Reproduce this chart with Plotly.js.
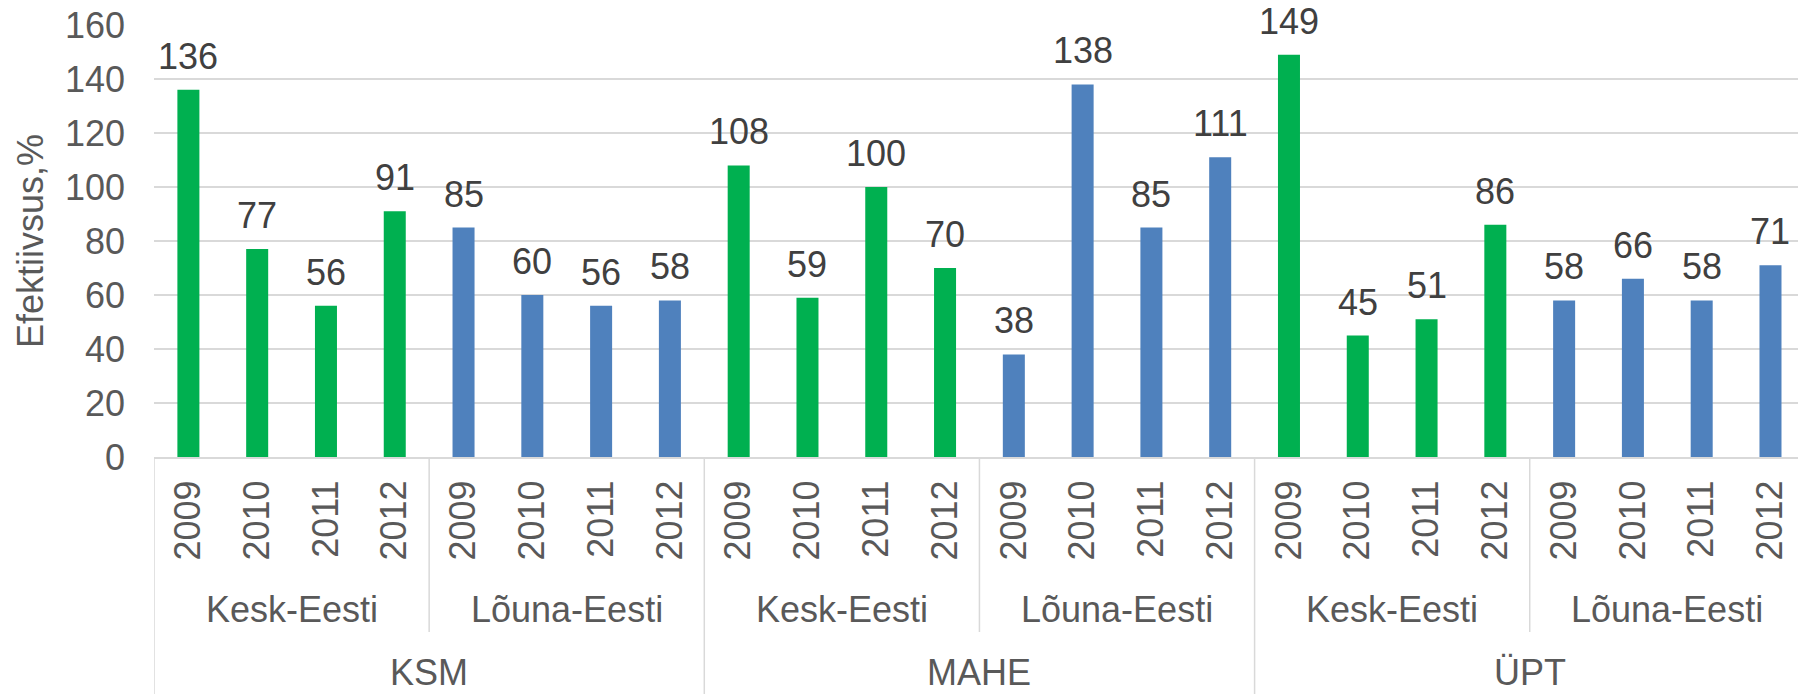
<!DOCTYPE html>
<html>
<head>
<meta charset="utf-8">
<script src="https://cdn.plot.ly/plotly-3.0.1.min.js"></script>
<style>
  html, body { margin: 0; padding: 0; background: #ffffff; }
  #chart { width: 1798px; height: 694px; }
</style>
</head>
<body>
<div id="chart"></div>
<script>
// ---- data ----
const groups = ['KSM', 'MAHE', 'ÜPT'];
const regions = ['Kesk-Eesti', 'Lõuna-Eesti'];
const years = ['2009', '2010', '2011', '2012'];
const ksmKesk = [136, 77, 56, 91];
const ksmLouna = [85, 60, 56, 58];
const maheKesk = [108, 59, 100, 70];
const maheLouna = [38, 138, 85, 111];
const uptKesk = [149, 45, 51, 86];
const uptLouna = [58, 66, 58, 71];
const yAxisTitle = 'Efektiivsus,%';
const yTicks = [0, 20, 40, 60, 80, 100, 120, 140, 160];

// ---- styles ----
const FONT = '"Liberation Sans", Arial, Helvetica, sans-serif';
const GREEN = '#00B050';
const BLUE = '#4F81BD';
const AXIS_TEXT = '#595959';
const LABEL_TEXT = '#404040';
const GRID = '#D9D9D9';

const seriesByGroup = [
  [ksmKesk, ksmLouna],
  [maheKesk, maheLouna],
  [uptKesk, uptLouna]
];

const xs = [], ys = [], colors = [], tickText = [];
seriesByGroup.forEach((pair, g) => {
  pair.forEach((vals, r) => {
    vals.forEach((v, k) => {
      xs.push(xs.length);
      ys.push(v);
      colors.push(r === 0 ? GREEN : BLUE);
      tickText.push(years[k]);
    });
  });
});

const nCat = xs.length;
const perRegion = years.length;
const perGroup = years.length * regions.length;

// plot geometry helpers (pixels below axis line)
const PLOT_H = 694 - 25 - 237;
const py = px => -px / PLOT_H;

const annotations = [];
// data labels
xs.forEach((x, i) => {
  annotations.push({
    x: x, y: ys[i], xref: 'x', yref: 'y',
    text: String(ys[i]), showarrow: false,
    xanchor: 'center', yanchor: 'bottom', yshift: 11,
    font: { family: FONT, size: 36, color: LABEL_TEXT }
  });
});
// region labels
groups.forEach((gname, g) => {
  regions.forEach((rname, r) => {
    const start = g * perGroup + r * perRegion;
    annotations.push({
      x: start + (perRegion - 1) / 2, y: py(152), xref: 'x', yref: 'paper',
      text: rname, showarrow: false, xanchor: 'center', yanchor: 'middle',
      font: { family: FONT, size: 36, color: AXIS_TEXT }
    });
  });
  annotations.push({
    x: g * perGroup + (perGroup - 1) / 2, y: py(215), xref: 'x', yref: 'paper',
    text: gname, showarrow: false, xanchor: 'center', yanchor: 'middle',
    font: { family: FONT, size: 36, color: AXIS_TEXT }
  });
});

// divider lines of the category table
const shapes = [];
for (let b = 0; b * perRegion <= nCat; b++) {
  const xb = b * perRegion - 0.5;
  const isGroup = (b * perRegion) % perGroup === 0;
  shapes.push({
    type: 'line', xref: 'x', yref: 'paper',
    x0: xb, x1: xb, y0: 0, y1: isGroup ? py(240) : py(175),
    line: { color: GRID, width: 1.5 }
  });
}

const trace = {
  type: 'bar', x: xs, y: ys,
  marker: { color: colors, line: { width: 0 } },
  width: 0.32, hoverinfo: 'x+y', cliponaxis: false
};

const layout = {
  width: 1798, height: 694,
  margin: { l: 154, r: 0, t: 25, b: 237, pad: 0 },
  paper_bgcolor: '#ffffff', plot_bgcolor: '#ffffff',
  showlegend: false,
  font: { family: FONT, color: AXIS_TEXT },
  xaxis: {
    range: [-0.5, nCat - 0.6],
    tickmode: 'array', tickvals: xs, ticktext: tickText,
    tickangle: -90, ticks: '', ticklabelstandoff: 7,
    tickfont: { family: FONT, size: 36, color: AXIS_TEXT },
    showgrid: false, zeroline: false,
    showline: true, linecolor: GRID, linewidth: 2,
    fixedrange: true
  },
  yaxis: {
    range: [0, 160],
    tickmode: 'array', tickvals: yTicks,
    ticks: '', ticklabelstandoff: 28,
    tickfont: { family: FONT, size: 36, color: AXIS_TEXT },
    showgrid: true, gridcolor: GRID, gridwidth: 1.4,
    zeroline: false, showline: false,
    title: { text: yAxisTitle, font: { family: FONT, size: 36, color: AXIS_TEXT }, standoff: 10 },
    automargin: false,
    fixedrange: true
  },
  annotations: annotations,
  shapes: shapes,
  bargap: 0.68
};

Plotly.newPlot('chart', [trace], layout, { displayModeBar: false, staticPlot: true });
</script>
</body>
</html>
